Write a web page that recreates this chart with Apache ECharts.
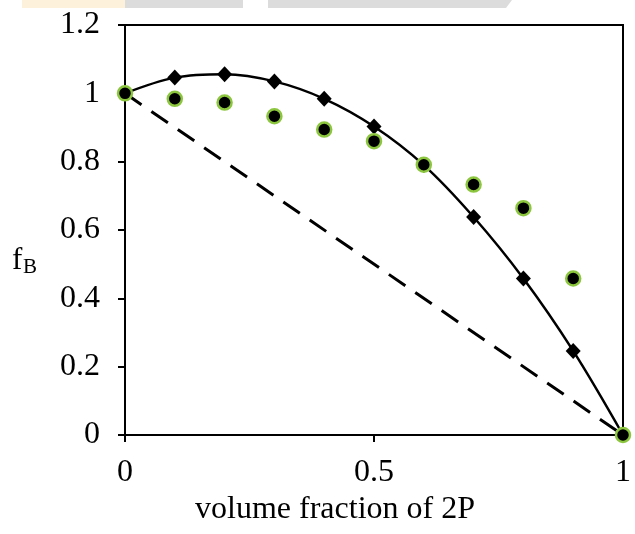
<!DOCTYPE html>
<html>
<head>
<meta charset="utf-8">
<script src="https://cdn.jsdelivr.net/npm/echarts@6/dist/echarts.min.js"></script>
<style>
    html, body { margin: 0; padding: 0; background: #fff; }
    #chart { width: 635px; height: 534px; }
</style>
</head>
<body>
<div id="chart"></div>
<script>
    // volume fraction of 2P
    const fractions = [0, 0.1, 0.2, 0.3, 0.4, 0.5, 0.6, 0.7, 0.8, 0.9, 1];
    // diamonds + smooth curve
    const fbCurve = [1.0, 1.046, 1.056, 1.035, 0.984, 0.903, 0.79, 0.638, 0.458, 0.246, 0];
    // circles
    const fbMeasured = [1.0, 0.984, 0.973, 0.933, 0.894, 0.860, 0.791, 0.733, 0.664, 0.458, 0];
    // dashed reference line
    const idealLine = [[0, 1], [1, 0]];
    const xTicks = [0, 0.5, 1];
    const yTicks = [0, 0.2, 0.4, 0.6, 0.8, 1, 1.2];

    const font = '"Liberation Serif", "Times New Roman", serif';
    const chart = echarts.init(document.getElementById('chart'));

    const pair = (xs, ys) => xs.map((x, i) => [x, ys[i]]);

    chart.setOption({
        animation: false,
        grid: {
            left: 125, right: 12, top: 25, bottom: 99,
            show: true, borderColor: '#000', borderWidth: 2
        },
        xAxis: {
            type: 'value', min: 0, max: 1, interval: 0.5,
            name: 'volume fraction of 2P',
            nameLocation: 'middle', nameGap: 59,
            // title sits a bit left of the plot centre
            nameTextStyle: { color: '#000', fontFamily: font, fontSize: 32, padding: [0, 78, 0, 0] },
            axisLine: { lineStyle: { color: '#000', width: 2 } },
            axisTick: { show: true, length: 7, lineStyle: { color: '#000', width: 2 } },
            axisLabel: {
                color: '#000', fontFamily: font, fontSize: 32, margin: 22,
                formatter: v => xTicks.includes(v) ? String(v) : ''
            },
            splitLine: { show: false }
        },
        yAxis: {
            type: 'value', min: 0, max: 1.2, interval: 0.2,
            axisLine: { lineStyle: { color: '#000', width: 2 } },
            axisTick: { show: true, length: 7, lineStyle: { color: '#000', width: 2 } },
            axisLabel: {
                color: '#000', fontFamily: font, fontSize: 32, margin: 25,
                formatter: v => {
                    const t = yTicks.find(y => Math.abs(y - v) < 1e-6);
                    return t === undefined ? '' : String(t);
                }
            },
            splitLine: { show: false }
        },
        graphic: [
            // faint banner at the very top
            { type: 'rect', shape: { x: 22, y: 0, width: 103, height: 8 }, style: { fill: '#fdf1dc' }, silent: true },
            { type: 'rect', shape: { x: 125, y: 0, width: 118, height: 8 }, style: { fill: '#dcdcdc' }, silent: true },
            { type: 'polygon', shape: { points: [[268, 0], [512, 0], [506, 8], [268, 8]] }, style: { fill: '#dcdcdc' }, silent: true },
            // y axis title f_B
            { type: 'text', left: 12, top: 245, style: { text: 'f', font: '31px ' + font, fill: '#000' } },
            { type: 'text', left: 23, top: 257, style: { text: 'B', font: '21px ' + font, fill: '#000' } }
        ],
        series: [
            {
                type: 'line',
                data: idealLine,
                symbol: 'none',
                lineStyle: { color: '#000', width: 3, type: [20, 12] },
                z: 2
            },
            {
                type: 'line',
                data: pair(fractions, fbCurve),
                smooth: 0.35,
                symbol: 'path://M0,-1L1,0L0,1L-1,0Z',
                symbolSize: [15, 16],
                showAllSymbol: true,
                itemStyle: { color: '#000' },
                lineStyle: { color: '#000', width: 2.5 },
                z: 3
            },
            {
                type: 'scatter',
                data: pair(fractions, fbMeasured),
                symbol: 'circle',
                symbolSize: 14,
                itemStyle: { color: '#000', opacity: 1, borderColor: '#8cc63f', borderWidth: 2.5 },
                z: 4
            }
        ]
    });
</script>
</body>
</html>
